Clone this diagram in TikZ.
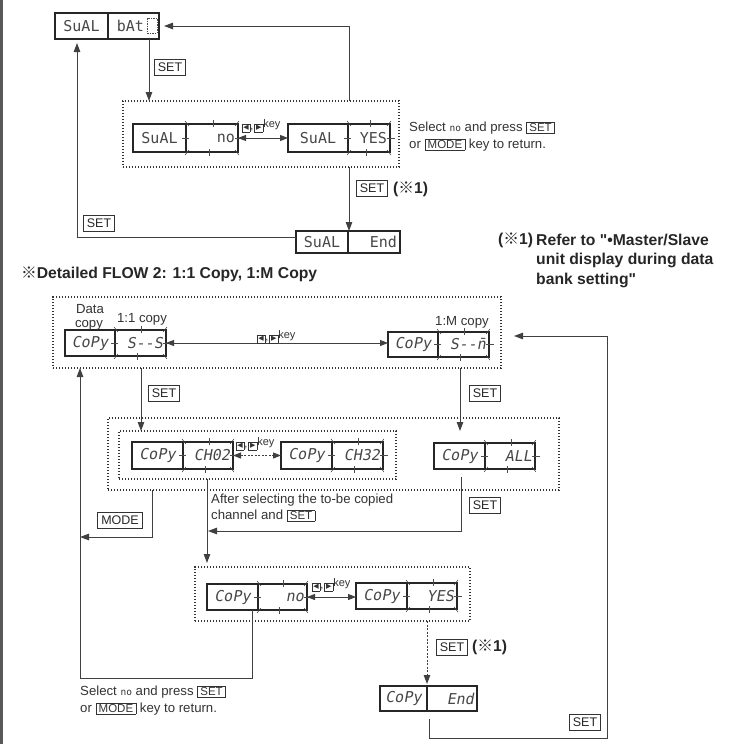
\documentclass[tikz,border=0pt]{standalone}
\usepackage{fontspec}
\setmainfont{Liberation Sans}
\newfontfamily\qf{Liberation Sans}
\newfontfamily\segfont{DejaVu Sans Mono}
\newfontfamily\segslant[FakeSlant=0.18]{DejaVu Sans Mono}
\newfontfamily\symf{DejaVu Sans}
\newfontfamily\cjkf{Noto Sans CJK JP}
\usetikzlibrary{arrows.meta,calc,fit}

\tikzset{
 cell/.style={draw=black!85, line width=1.2pt, inner xsep=3pt, inner ysep=0pt, outer sep=0pt, text=black!72, font=\segcur\fontsize{15}{15}\selectfont},
 conn/.style={draw=black!75, line width=1pt},
 arr/.style={conn, -{Triangle[length=9pt,width=6.5pt]}},
 darr/.style={conn, {Triangle[length=8pt,width=6pt]}-{Triangle[length=8pt,width=6pt]}},
 dotbox/.style={draw=black!80, line width=1.1pt, dash pattern=on 1.1pt off 1.9pt, inner sep=0pt, outer sep=0pt},
 keybox/.style={draw=black!80, line width=0.7pt, inner xsep=3.5pt, inner ysep=3.5pt, font=\fontsize{12.5}{12.5}\selectfont, text=black!85},
 note/.style={font=\fontsize{13.2}{16}\selectfont, text=black!80, inner sep=0pt, anchor=west},
 lbl/.style={font=\fontsize{13.2}{16}\selectfont, text=black!80, inner sep=0pt},
 bnote/.style={font=\bfseries\fontsize{15.7}{20}\selectfont, text=black!85, inner sep=0pt, anchor=west},
 keylbl/.style={font=\fontsize{11}{11}\selectfont, text=black!80, inner sep=0pt},
 tick/.style={draw=black!70, line width=0.6pt},
}

\newcommand\dispbox[8]{%
 \pgfmathsetmacro\dwl{#4-#2}%
 \pgfmathsetmacro\dwr{#5-#4}%
 \pgfmathsetmacro\dtw{#5-#4-6}%
 \pgfmathsetmacro\dh{#6-#3}%
 \node[cell, minimum width=\dwl pt, minimum height=\dh pt, anchor=north west] (#1l) at (#2,#3) {#7};
 \node[cell, minimum width=\dwr pt, minimum height=\dh pt, text width=\dtw pt, align=right, anchor=north west] (#1r) at (#4,#3) {#8};
}
\newcommand\blink[1]{%
 \draw[tick] ($(#1.north)+(1,-4)$) -- ++(0,7);
 \draw[tick] ($(#1.south)+(-3,-3)$) -- ++(0,7);
 \draw[tick] ($(#1.west)+(-4,0)$) -- ++(7,0);
 \draw[tick] ($(#1.east)+(-3,0)$) -- ++(8,0);
 \draw[tick] ($(#1.north west)+(-1,-3)$) -- ++(4,5);
 \draw[tick] ($(#1.north east)+(1,-3)$) -- ++(-4,5);
 \draw[tick] ($(#1.south west)+(-1,3)$) -- ++(4,-5);
 \draw[tick] ($(#1.south east)+(1,3)$) -- ++(-4,-5);
}
\newcommand\kb[1]{{\setlength\fboxsep{1pt}\setlength\fboxrule{0.7pt}\fbox{\symf\fontsize{7}{7}\selectfont#1}}}
\newcommand\keys{\kb{◀},\kern1pt\kb{▶}\raisebox{2pt}{key}}
\newcommand\ib[1]{{\setlength\fboxsep{1pt}\setlength\fboxrule{0.6pt}\fbox{\kern1.5pt\fontsize{11.5}{11.5}\selectfont #1\kern1.5pt}}}
\newcommand\segno{{\segfont\fontsize{9.5}{9.5}\selectfont no}}
\newcommand\sq{{\qf "}}
\let\segcur\segfont

\begin{document}
\begin{tikzpicture}[x=1pt,y=-1pt]
\useasboundingbox (0,0) rectangle (744,744);
\fill[black!65] (0,0) rectangle (2.5,744);

% ---------------- top section
\let\segcur\segfont
\dispbox{A}{55}{13}{108}{159}{39}{SuAL}{bAt\kern12pt}
\dispbox{B}{133}{124}{186}{238}{152}{SuAL}{no}
\dispbox{C}{288}{124}{348}{390}{152}{SuAL}{YES}
\dispbox{D}{296}{231}{348}{400}{253}{SuAL}{End}
\blink{Br}\blink{Cr}
\draw[black!70, line width=0.6pt, dash pattern=on 1.5pt off 1pt] (147,18) rectangle (157,33);
\node[dotbox, fit={(123,101) (399,167)}] (T1) {};

\coordinate (c1) at (149,0);
\coordinate (c2) at (349,0);
\coordinate (c3) at (77,0);
\draw[arr] (Ar.south -| c1) -- (T1.north -| c1);
\node[keybox] (s1) at (170,67) {SET};
\draw[arr, shorten >=5pt] (T1.north -| c2) |- (Ar.east);
\draw[darr] (Br.east) -- (Cl.west);
\node[keylbl] (k1) at (261,126) {\keys};
\draw[arr] (T1.south -| c2) -- (Dr.north -| c2);
\node[keybox] (s2) at (372,188) {SET};
\node[bnote] (x1) at (393,189) {({\cjkf ※}1)};
\draw[arr, shorten >=4pt] ([yshift=5pt]Dl.west) -| (Al.south -| c3);
\node[keybox] (s3) at (99,223) {SET};
\node[note] (n1a) at (409,128) {Select \segno\ and press \ib{SET}};
\node[note] (n1b) at (409,145) {or \ib{MODE} key to return.};

\node[bnote] (f0) at (498,240) {({\cjkf ※}1)};
\node[bnote] (f1) at (536,240) {Refer to \sq•Master/Slave};
\node[bnote] (f2) at (536,260) {unit display during data};
\node[bnote] (f3) at (536,280) {bank setting\sq};

\node[bnote] (title) at (21,274) {{\cjkf ※}Detailed FLOW 2: 1:1 Copy, 1:M Copy};

% ---------------- second section
\let\segcur\segslant
\dispbox{E}{65}{330}{115}{166}{356}{CoPy}{S--S}
\dispbox{F}{388}{332}{438}{489}{357}{CoPy}{S--\=n}
\dispbox{G}{132}{442}{183}{233}{469}{CoPy}{CH02}
\dispbox{H}{281}{442}{332}{383}{469}{CoPy}{CH32}
\dispbox{I}{434}{443}{485}{535}{469}{CoPy}{ALL}
\dispbox{J}{207}{584}{258}{307}{610}{CoPy}{no}
\dispbox{K}{356}{583}{407}{457}{609}{CoPy}{YES}
\dispbox{L}{380}{686}{427}{477}{711}{CoPy}{End}
\blink{Er}\blink{Fr}\blink{Gr}\blink{Hr}\blink{Ir}\blink{Jr}\blink{Kr}

\node[dotbox, fit={(53,297) (501,368)}] (S1) {};
\node[dotbox, fit={(108,418) (559,490)}] (S2o) {};
\node[dotbox, fit={(119,431) (396,479)}] (S2i) {};
\node[dotbox, fit={(195,567) (470,621)}] (S3) {};

\node[lbl] (ld1) at (90,309) {Data};
\node[lbl] (ld2) at (89,325) {copy};
\node[lbl] (l11) at (142,319) {1:1 copy};
\node[lbl] (l1m) at (462,322) {1:M copy};

\draw[darr] (Er.east) -- (Fl.west |- Er.east);
\node[keylbl] (k2) at (276,337) {\keys};

\draw[darr, dash pattern=on 2pt off 1.5pt] (Gr.east) -- (Hl.west);
\node[keylbl] (k3) at (255,444) {\keys};

\coordinate (c7) at (429,0);
\coordinate (r1) at (607,738);
\coordinate (r2) at (607,336);
\draw[arr, shorten <=8pt, shorten >=13pt] (Lr.south -| c7) |- (r1) -- (r2) -- (S1.east |- r2);
\node[keybox] (s4) at (585,722) {SET};

\coordinate (c8) at (141,0);
\draw[arr] (S1.south -| c8) -- (S2i.north -| c8);
\node[keybox] (s5) at (164,393) {SET};

\coordinate (c9) at (460,0);
\draw[arr, shorten >=12pt] (S1.south -| c9) -- (Il.north -| c9);
\node[keybox] (s6) at (485,393) {SET};

\coordinate (c10) at (152,0);
\coordinate (c10b) at (80,537);
\draw[arr] (S2o.south -| c10) |- (c10b);
\node[keybox] (s7) at (120,520) {MODE};

\coordinate (c11) at (207,0);
\draw[arr, shorten >=4pt] (S2i.south -| c11) -- (S3.north -| c11);

\coordinate (c12) at (461,0);
\coordinate (c12b) at (208,531);
\draw[arr, shorten <=8pt] (Il.south -| c12) |- (c12b);
\node[keybox] (s8) at (485,505) {SET};
\node[note] (n3a) at (211,500) {After selecting the to-be copied};
\node[note] (n3b) at (211,516) {channel and \ib{SET}};

\draw[darr] (Jr.east) -- (Kl.west |- Jr.east);
\node[keylbl] (k4) at (331,585) {\keys};

\coordinate (c14) at (427,0);
\draw[arr, dash pattern=on 2pt off 1.5pt, shorten >=2pt] (S3.south -| c14) -- (Lr.north -| c14);
\node[keybox] (s9) at (452,647) {SET};
\node[bnote] (x2) at (472,647) {({\cjkf ※}1)};

\coordinate (c15) at (252,0);
\coordinate (c15b) at (80,678);
\draw[arr] (Jl.south -| c15) |- (c15b) -- (S1.south -| c15b);

\node[note] (n2a) at (80,692) {Select \segno\ and press \ib{SET}};
\node[note] (n2b) at (80,709) {or \ib{MODE} key to return.};
\end{tikzpicture}
\end{document}
